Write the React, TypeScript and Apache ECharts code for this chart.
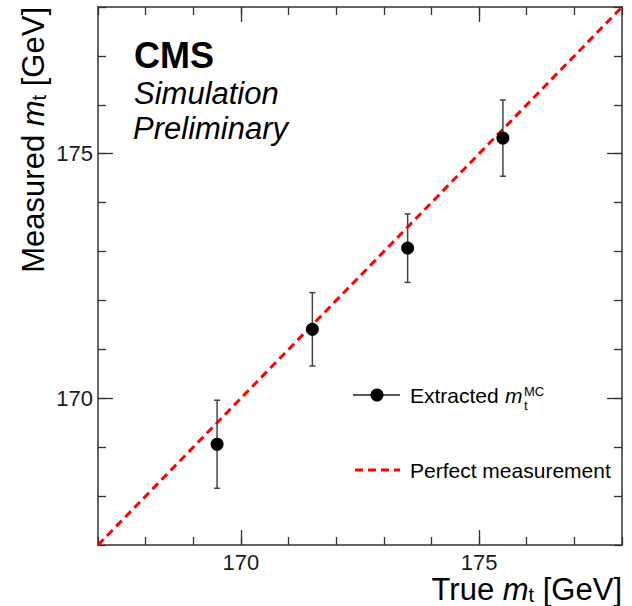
import React, { useEffect, useRef } from "react";
import * as echarts from "echarts";

// ---- data ----
const trueMass = [169.5, 171.5, 173.5, 175.5];
const measuredMass = [169.06, 171.41, 173.07, 175.32];
const measuredErr = [0.9, 0.75, 0.7, 0.78];
const perfectLine = [
  [167, 167],
  [178, 178],
];
const axisMin = 167;
const axisMax = 178;
const majorTicks = [170, 175];

const FONT = "Liberation Sans, Arial, Helvetica, sans-serif";
const AXIS_COLOR = "#333";

function minorAxis(extra: any) {
  return {
    type: "value",
    min: axisMin,
    max: axisMax,
    interval: 1,
    gridIndex: 0,
    splitLine: { show: false },
    axisLine: { show: true, onZero: false, lineStyle: { color: AXIS_COLOR, width: 1.5 } },
    axisTick: { show: true, inside: true, length: 8, lineStyle: { color: AXIS_COLOR, width: 1.3 } },
    axisLabel: { show: false },
    ...extra,
  };
}
function majorAxis(extra: any) {
  return {
    type: "value",
    min: axisMin,
    max: axisMax,
    interval: 1,
    gridIndex: 0,
    splitLine: { show: false },
    axisLine: { show: false, onZero: false },
    axisTick: {
      show: true,
      inside: true,
      length: 15,
      customValues: majorTicks,
      lineStyle: { color: AXIS_COLOR, width: 1.3 },
    },
    axisLabel: { show: false },
    ...extra,
  };
}

const labelStyle = {
  show: true,
  customValues: majorTicks,
  fontSize: 22,
  lineHeight: 20,
  fontFamily: FONT,
  color: "#1a1a1a",
};

const titleRich = {
  r: { fontSize: 31, lineHeight: 32, fontFamily: FONT, fill: "#000", color: "#000" },
  i: { fontSize: 31, lineHeight: 32, fontFamily: FONT, fontStyle: "italic", fill: "#000", color: "#000" },
  s: { fontSize: 20, lineHeight: 12, verticalAlign: "bottom", fontFamily: FONT, fill: "#000", color: "#000" },
};

export default function App() {
  const ref = useRef<HTMLDivElement>(null);
  useEffect(() => {
    if (!ref.current) return;
    const chart = echarts.init(ref.current, undefined, { renderer: "svg" });
    const errData = trueMass.map((x, i) => [
      x,
      measuredMass[i] - measuredErr[i],
      measuredMass[i] + measuredErr[i],
    ]);
    const points = trueMass.map((x, i) => [x, measuredMass[i]]);
    const option: any = {
      animation: false,
      backgroundColor: "#fff",
      grid: { left: 98, top: 7, width: 524, height: 538, containLabel: false },
      xAxis: [
        minorAxis({ position: "bottom", axisLabel: { ...labelStyle, margin: 7 } }),
        majorAxis({ position: "bottom" }),
        minorAxis({ position: "top" }),
        majorAxis({ position: "top" }),
      ],
      yAxis: [
        minorAxis({ position: "left", axisLabel: { ...labelStyle, margin: 5 } }),
        majorAxis({ position: "left" }),
        minorAxis({ position: "right" }),
        majorAxis({ position: "right" }),
      ],
      series: [
        {
          type: "line",
          data: perfectLine,
          xAxisIndex: 0,
          yAxisIndex: 0,
          symbol: "none",
          z: 1,
          lineStyle: { color: "#ff0000", width: 3, type: [8, 5] },
        },
        {
          type: "custom",
          xAxisIndex: 0,
          yAxisIndex: 0,
          z: 2,
          data: errData,
          renderItem: (params: any, api: any) => {
            const x = api.value(0);
            const lo = api.coord([x, api.value(1)]);
            const hi = api.coord([x, api.value(2)]);
            const cap = 3;
            const style = { stroke: "#444", lineWidth: 1.5 };
            return {
              type: "group",
              children: [
                { type: "line", shape: { x1: hi[0], y1: hi[1], x2: lo[0], y2: lo[1] }, style },
                { type: "line", shape: { x1: hi[0] - cap, y1: hi[1], x2: hi[0] + cap, y2: hi[1] }, style },
                { type: "line", shape: { x1: lo[0] - cap, y1: lo[1], x2: lo[0] + cap, y2: lo[1] }, style },
              ],
            };
          },
        },
        {
          type: "scatter",
          xAxisIndex: 0,
          yAxisIndex: 0,
          z: 3,
          data: points,
          symbol: "circle",
          symbolSize: 13,
          itemStyle: { color: "#000", opacity: 1 },
        },
      ],
      graphic: [
        {
          type: "text",
          x: 134,
          y: 55,
          style: { text: "CMS", fontSize: 36, fontWeight: "bold", fontFamily: FONT, fill: "#000", align: "left", verticalAlign: "middle" },
        },
        {
          type: "text",
          x: 134,
          y: 93,
          style: { text: "Simulation", fontSize: 31, fontStyle: "italic", fontFamily: FONT, fill: "#000", align: "left", verticalAlign: "middle" },
        },
        {
          type: "text",
          x: 133,
          y: 128,
          style: { text: "Preliminary", fontSize: 31, fontStyle: "italic", fontFamily: FONT, fill: "#000", align: "left", verticalAlign: "middle" },
        },
        // x title
        {
          type: "text",
          x: 622,
          y: 589,
          style: {
            text: "{r|True }{i|m}{s|t}{r| [GeV]}",
            rich: titleRich,
            align: "right",
            verticalAlign: "middle",
          },
        },
        // y title
        {
          type: "text",
          x: 33,
          y: 7,
          rotation: Math.PI / 2,
          style: {
            text: "{r|Measured }{i|m}{s|t}{r| [GeV]}",
            rich: titleRich,
            align: "right",
            verticalAlign: "middle",
          },
        },
        // legend: extracted
        { type: "line", shape: { x1: 353, y1: 395, x2: 400, y2: 395 }, style: { stroke: "#222", lineWidth: 1.3 } },
        { type: "circle", shape: { cx: 377, cy: 395, r: 6.5 }, style: { fill: "#000" } },
        {
          type: "text",
          x: 410,
          y: 395,
          style: { text: "Extracted ", fontSize: 21, fontFamily: FONT, fill: "#000", align: "left", verticalAlign: "middle" },
        },
        {
          type: "text",
          x: 505,
          y: 395,
          style: { text: "m", fontSize: 21, fontStyle: "italic", fontFamily: FONT, fill: "#000", align: "left", verticalAlign: "middle" },
        },
        {
          type: "text",
          x: 524,
          y: 405,
          style: { text: "t", fontSize: 13, fontFamily: FONT, fill: "#000", align: "left", verticalAlign: "middle" },
        },
        {
          type: "text",
          x: 524,
          y: 391,
          style: { text: "MC", fontSize: 13, fontFamily: FONT, fill: "#000", align: "left", verticalAlign: "middle" },
        },
        // legend: perfect
        { type: "line", shape: { x1: 355, y1: 470, x2: 400, y2: 470 }, style: { stroke: "#ff0000", lineWidth: 3, lineDash: [8, 5] } },
        {
          type: "text",
          x: 410,
          y: 470,
          style: { text: "Perfect measurement", fontSize: 21, fontFamily: FONT, fill: "#000", align: "left", verticalAlign: "middle" },
        },
      ],
    };
    chart.setOption(option);
    return () => chart.dispose();
  }, []);
  return (
    <div
      ref={ref}
      style={{ position: "absolute", left: 0, top: 0, width: 632, height: 606, background: "#fff" }}
    />
  );
}
